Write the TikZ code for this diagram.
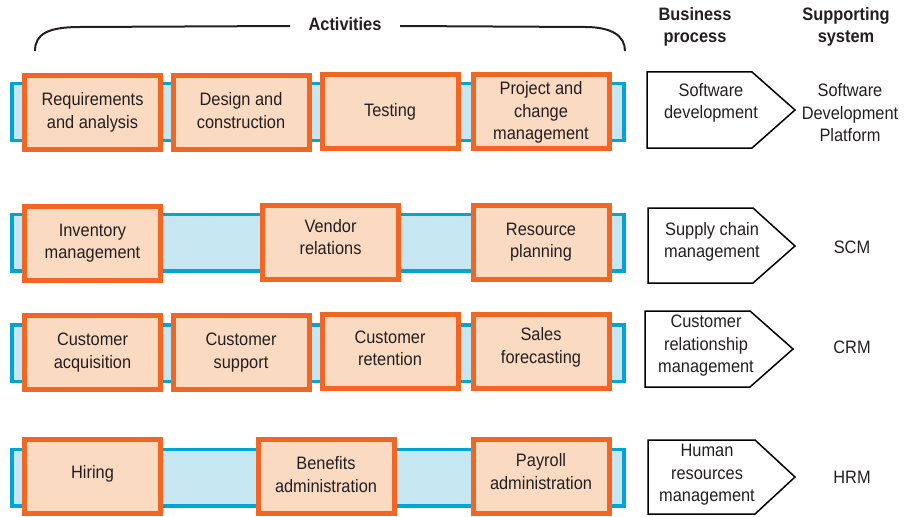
\documentclass[tikz,border=0pt]{standalone}
\usepackage{fontspec}
\setmainfont{Liberation Sans}[FakeStretch=0.91]
\definecolor{orangeA}{HTML}{F26522}
\definecolor{peach}{HTML}{FBDAC2}
\definecolor{blueA}{HTML}{00A5D6}
\definecolor{lblue}{HTML}{C6E6F2}
\definecolor{ink}{HTML}{231F20}
\newcommand{\bodyfnt}{\fontsize{18}{22.5}\selectfont}
\begin{document}
\begin{tikzpicture}[x=1pt,y=-1pt,
  actbox/.style={draw=orangeA, fill=peach, line width=5pt, minimum width=136pt, minimum height=74pt, align=center, inner sep=0pt, font=\bodyfnt, text=ink},
  band/.style={draw=blueA, fill=lblue, line width=3.5pt, minimum width=612pt, minimum height=56.5pt, inner sep=0pt},
  proc/.style={draw=black, fill=white, line width=1.5pt, line join=miter},
  lbl/.style={align=center, font=\bodyfnt, text=ink, inner sep=0pt},
  hdr/.style={align=center, font=\bodyfnt\bfseries, text=ink, inner sep=0pt}]
\useasboundingbox (0,0) rectangle (917,516);

% headers
\node[hdr] (act) at (345,24) {Activities};
\node[hdr] (bp) at (695,27) {Business\\process};
\node[hdr] (ss) at (846,27) {Supporting\\system};
\draw[line width=2pt, ink] (35,51) .. controls (35,34) and (48,27) .. (80,27) -- (290,26);
\draw[line width=2pt, ink] (400,26) -- (585,27) .. controls (612,27) and (625,36) .. (625,51);

% bands
\node[band] (b1) at (318,112) {};
\node[band] (b2) at (318,242.5) {};
\node[band] (b3) at (318,353) {};
\node[band] (b4) at (318,477.5) {};

% row 1
\node[actbox] (r1a) at (92.5,112.5) {Requirements\\and analysis};
\node[actbox] (r1b) at (241,112.5) {};
\node[lbl] (r1bt) at ([yshift=2pt]r1b.center) {Design and\\construction};
\node[actbox] (r1c) at (390,111.5) {Testing};
\node[actbox] (r1d) at (541,111.5) {};
\node[lbl] (r1dt) at ([yshift=-1pt]r1d.center) {Project and\\change\\management};

% row 2
\node[actbox] (r2a) at (92.5,243) {Inventory\\management};
\node[actbox] (r2b) at (330.5,242) {};
\node[lbl] (r2bt) at ([yshift=5pt]r2b.center) {Vendor\\relations};
\node[actbox] (r2c) at (541,242) {Resource\\planning};

% row 3
\node[actbox] (r3a) at (92.5,352.5) {Customer\\acquisition};
\node[actbox] (r3b) at (241,352.5) {Customer\\support};
\node[actbox] (r3c) at (390,351.5) {};
\node[lbl] (r3ct) at ([yshift=3pt]r3c.center) {Customer\\retention};
\node[actbox] (r3d) at (541,351.5) {};
\node[lbl] (r3dt) at ([yshift=4pt]r3d.center) {Sales\\forecasting};

% row 4
\node[actbox] (r4a) at (92.5,476.5) {};
\node[lbl] (r4at) at ([yshift=3pt]r4a.center) {Hiring};
\node[actbox] (r4b) at (326,476.5) {};
\node[lbl] (r4bt) at ([yshift=2pt]r4b.center) {Benefits\\administration};
\node[actbox] (r4c) at (541,476.5) {};
\node[lbl] (r4ct) at ([yshift=5pt]r4c.center) {Payroll\\administration};

% business processes
\draw[proc] (647,72) -- (752,72) -- (795,110) -- (752,148) -- (647,148) -- cycle;
\node[lbl] (p1) at (711,103) {Software\\development};
\draw[proc] (648,208) -- (753,208) -- (795,246) -- (753,283) -- (648,283) -- cycle;
\node[lbl] (p2) at (712,242) {Supply chain\\management};
\draw[proc] (645,311) -- (750,311) -- (793,349) -- (750,387) -- (645,387) -- cycle;
\node[lbl] (p3) at (706,346) {Customer\\relationship\\management};
\draw[proc] (648,440) -- (755,440) -- (795,477) -- (755,514) -- (648,514) -- cycle;
\node[lbl] (p4) at (707,475) {Human\\resources\\management};

% supporting systems
\node[lbl] (s1) at (850,113) {Software\\Development\\Platform};
\node[lbl] (s2) at (852,247) {SCM};
\node[lbl] (s3) at (852,347) {CRM};
\node[lbl] (s4) at (852,477) {HRM};
\end{tikzpicture}
\end{document}
